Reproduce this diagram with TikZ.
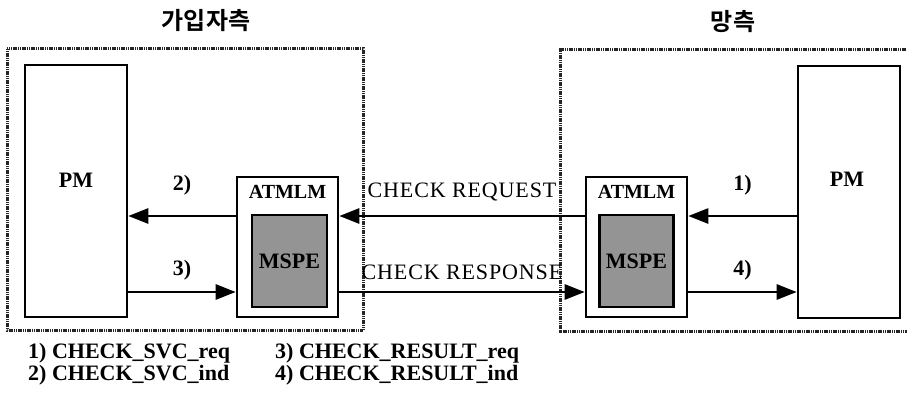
\documentclass[tikz,border=0pt]{standalone}
\usepackage{fontspec}
\setmainfont{Liberation Serif}
\newfontfamily\korfont{Noto Sans CJK KR}[BoldFont={Noto Sans CJK KR Bold}]
\usetikzlibrary{arrows.meta, positioning}

\begin{document}
\begin{tikzpicture}[
    x=1pt, y=-1pt,
    box/.style={draw, line width=2.6pt, inner sep=0pt},
    zone/.style={draw, black!85, line width=3pt, dash pattern=on 1.2pt off 0.6pt},
    chip/.style={box, fill=black!42},
    arr/.style={line width=2.6pt, -{Triangle[length=20pt,width=15pt]}},
    lbl/.style={font=\bfseries\fontsize{22}{24}\selectfont, inner sep=0pt},
    msg/.style={font=\addfontfeature{LetterSpace=4}\fontsize{22}{24}\selectfont, inner sep=0pt},
    title/.style={font=\korfont\bfseries\fontsize{24}{26}\selectfont, inner sep=0pt}
  ]
  \useasboundingbox (0,0) rectangle (907,396);

  % sides
  \draw[zone] (7,49) rectangle (363,330);
  \draw[zone] (910,50) -- (560,50) -- (560,331) -- (910,331);
  \node[title] (tsub) at (206,21) {가입자측};
  \node[title] (tnet) at (733,22) {망측};

  % subscriber side
  \node[box, minimum width=102pt, minimum height=252pt] (lpm) at (76,191) {};
  \node[lbl] at (76,180) {PM};
  \node[box, minimum width=101pt, minimum height=140pt] (latm) at (287.5,247) {};
  \node[lbl, font=\bfseries\fontsize{20}{22}\selectfont, below=9pt of latm.north] {ATMLM};
  \node[chip, minimum width=75pt, minimum height=92pt] (lmspe) at (289.5,261) {};
  \node[lbl] at (lmspe) {MSPE};

  % network side
  \node[box, minimum width=101pt, minimum height=140pt] (ratm) at (636.5,247) {};
  \node[lbl, font=\bfseries\fontsize{20}{22}\selectfont, below=9pt of ratm.north] {ATMLM};
  \node[chip, minimum width=74pt, minimum height=92pt] (rmspe) at (636.5,261) {};
  \node[lbl] at (rmspe) {MSPE};
  \node[box, minimum width=102pt, minimum height=252pt] (rpm) at (849,192) {};
  \node[lbl] at (847,179) {PM};

  \coordinate (up) at (0,216);
  \coordinate (dn) at (0,292);

  \draw[arr] (latm.west |- up) -- node[lbl, above=20pt] {2)} (lpm.east |- up);
  \draw[arr] (lpm.east |- dn) -- node[lbl, above=11pt] {3)} (latm.west |- dn);
  \draw[arr] (rpm.west |- up) -- node[lbl, above=20pt] {1)} (ratm.east |- up);
  \draw[arr] (ratm.east |- dn) -- node[lbl, above=11pt] {4)} (rpm.west |- dn);
  \draw[arr] (ratm.west |- up) -- node[msg, above=14pt] {CHECK REQUEST} (latm.east |- up);
  \draw[arr] (latm.east |- dn) -- node[msg, above=11pt] {CHECK RESPONSE} (ratm.west |- dn);

  % legend
  \node[lbl, anchor=base west] (m1) at (28,358) {1) CHECK\_SVC\_req};
  \node[lbl, anchor=base west] (m2) at (28,380) {2) CHECK\_SVC\_ind};
  \node[lbl, anchor=base west] (m3) at (275,358) {3) CHECK\_RESULT\_req};
  \node[lbl, anchor=base west] (m4) at (275,380) {4) CHECK\_RESULT\_ind};
\end{tikzpicture}
\end{document}
